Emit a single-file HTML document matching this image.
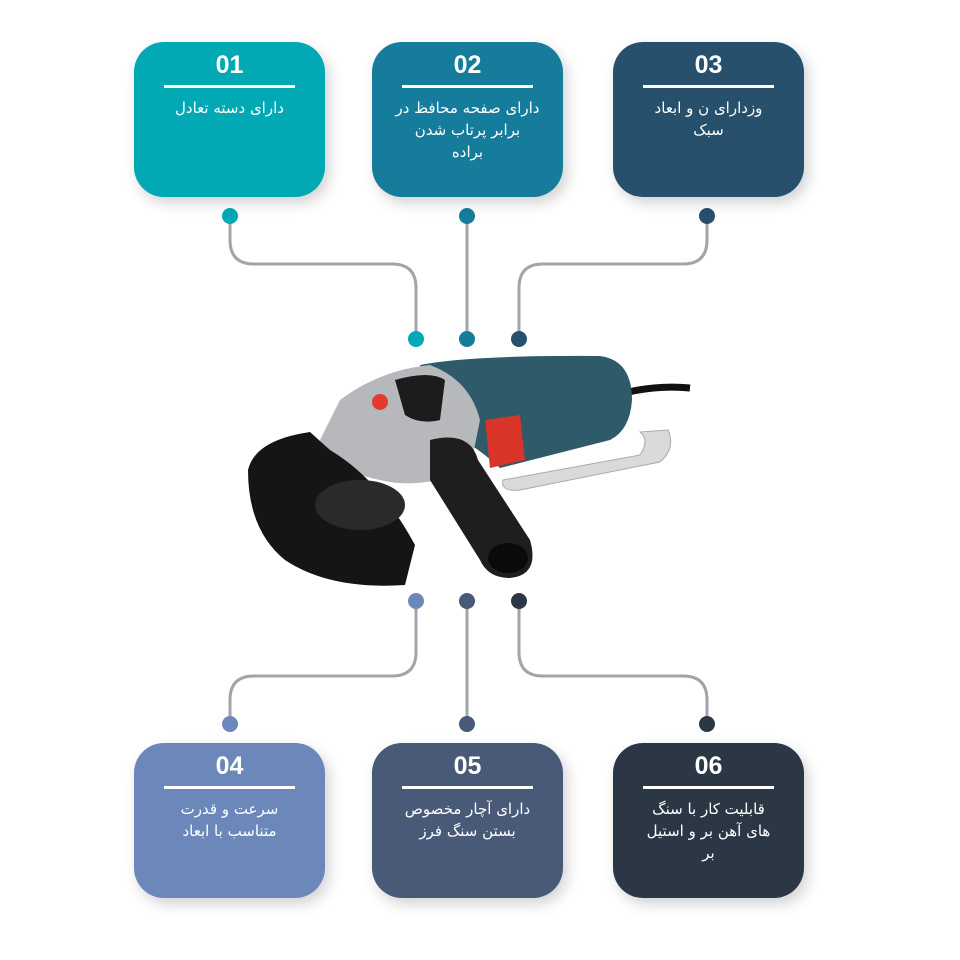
<!DOCTYPE html>
<html><head><meta charset="utf-8"><style>
body{margin:0;width:960px;height:960px;background:#fff;overflow:hidden;position:relative;font-family:"Liberation Sans","DejaVu Sans",sans-serif}
.b{position:absolute;width:191px;height:155px;border-radius:30px;color:#fff;text-align:center;box-shadow:4px 6px 14px rgba(0,0,0,0.18)}
.b .n{font-weight:bold;font-size:25px;margin-top:9px;line-height:28px}
.b .l{height:3px;background:#fff;margin:6px 30px 0}
.b .t{direction:rtl;font-size:15px;line-height:22px;margin:9px 10px 0;font-family:"DejaVu Sans",sans-serif;white-space:nowrap}
svg{position:absolute;left:0;top:0}
</style></head><body>
<svg width="960" height="960" viewBox="0 0 960 960">
<g fill="none" stroke="#a3a4a7" stroke-width="3">
<path d="M230 216 V240 Q230 264 254 264 H392 Q416 264 416 288 V339"/>
<path d="M467 216 V339"/>
<path d="M707 216 V240 Q707 264 683 264 H543 Q519 264 519 288 V339"/>
<path d="M416 601 V652 Q416 676 392 676 H254 Q230 676 230 700 V724"/>
<path d="M467 601 V724"/>
<path d="M519 601 V652 Q519 676 543 676 H683 Q707 676 707 700 V724"/>
</g>
<circle cx="230" cy="216" r="8" fill="#00a9b4"/><circle cx="467" cy="216" r="8" fill="#167c9c"/><circle cx="707" cy="216" r="8" fill="#27506c"/>
<circle cx="416" cy="339" r="8" fill="#00a9b4"/><circle cx="467" cy="339" r="8" fill="#167c9c"/><circle cx="519" cy="339" r="8" fill="#27506c"/>
<circle cx="416" cy="601" r="8" fill="#6c88bb"/><circle cx="467" cy="601" r="8" fill="#485a78"/><circle cx="519" cy="601" r="8" fill="#2c3746"/>
<circle cx="230" cy="724" r="8" fill="#6c88bb"/><circle cx="467" cy="724" r="8" fill="#485a78"/><circle cx="707" cy="724" r="8" fill="#2c3746"/>
<path d="M628 392 Q660 385 690 388" stroke="#111" stroke-width="7" fill="none"/>
<path d="M503 480 L640 455 Q650 440 640 432 L668 430 Q676 448 660 462 L520 490 Q500 492 503 480Z" fill="#d8dadc" stroke="#aaa"/>
<path d="M420 365 Q470 355 600 356 Q632 360 632 400 Q630 430 610 440 L500 468 Q470 440 440 430Z" fill="#2f5a6a"/>
<path d="M485 420 L520 415 L525 460 L490 468Z" fill="#d9342a"/>
<path d="M340 400 Q380 370 430 365 Q470 380 480 420 L470 470 Q420 490 380 480 Q330 470 320 440Z" fill="#b6b8bb"/>
<path d="M395 380 Q430 370 445 380 L440 420 Q420 425 405 415Z" fill="#1c1c1c"/>
<circle cx="380" cy="402" r="8" fill="#e23b2e"/>
<path d="M248 470 Q255 440 310 432 L330 450 Q380 480 415 545 L405 585 Q330 590 285 560 Q248 530 248 470Z" fill="#151515"/>
<ellipse cx="360" cy="505" rx="45" ry="25" fill="#2a2a2a"/>
<path d="M430 440 Q470 430 478 460 L530 540 Q540 575 510 578 Q488 578 480 560 L430 480Z" fill="#1e1e1e"/>
<ellipse cx="508" cy="558" rx="20" ry="15" fill="#0a0a0a"/>
</svg>
<div class="b" style="left:134px;top:42px;background:#00a9b4"><div class="n">01</div><div class="l"></div><div class="t">دارای دسته تعادل</div></div>
<div class="b" style="left:372px;top:42px;background:#167c9c"><div class="n">02</div><div class="l"></div><div class="t">دارای صفحه محافظ در<br>برابر پرتاب شدن<br>براده</div></div>
<div class="b" style="left:613px;top:42px;background:#27506c"><div class="n">03</div><div class="l"></div><div class="t">وزدارای ن و ابعاد<br>سبک</div></div>
<div class="b" style="left:134px;top:743px;background:#6c88bb"><div class="n">04</div><div class="l"></div><div class="t">سرعت و قدرت<br>متناسب با ابعاد</div></div>
<div class="b" style="left:372px;top:743px;background:#485a78"><div class="n">05</div><div class="l"></div><div class="t">دارای آچار مخصوص<br>بستن سنگ فرز</div></div>
<div class="b" style="left:613px;top:743px;background:#2c3746"><div class="n">06</div><div class="l"></div><div class="t">قابلیت کار با سنگ<br>های آهن بر و استیل<br>بر</div></div>
</body></html>
